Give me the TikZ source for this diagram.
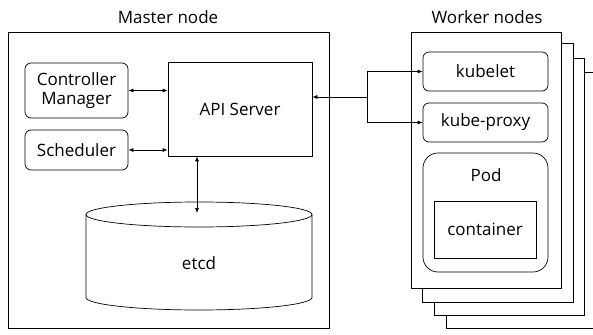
\documentclass[tikz,border=0pt]{standalone}
\usepackage{fontspec}
\setmainfont{Open Sans}
\usetikzlibrary{arrows.meta}
\begin{document}
\begin{tikzpicture}[x=1pt,y=-1pt,
  every node/.style={font=\fontsize{17}{19}\selectfont, inner sep=0pt},
  box/.style={draw, line width=0.7pt},
  rbox/.style={draw, line width=0.7pt, rounded corners=6pt},
  wbox/.style={draw, line width=0.7pt, fill=white},
  arr/.style={line width=0.7pt, {Latex[length=5pt,width=4pt]}-{Latex[length=5pt,width=4pt]}},
  arrone/.style={line width=0.7pt, -{Latex[length=5pt,width=4pt]}},
  ln/.style={line width=0.7pt}]
\useasboundingbox (0,0) rectangle (593,334);
\clip (0,0) rectangle (593,334);
% master
\node[box, minimum width=321pt, minimum height=296pt] (master) at (168.5,180) {};
\node (mtitle) at (168,17) {Master node};
\node[rbox, minimum width=103pt, minimum height=55pt, align=center] (cm) at (76.5,90.5) {Controller\\Manager};
\node[rbox, minimum width=103pt, minimum height=40pt] (sch) at (76.5,150) {Scheduler};
\node[box, minimum width=144pt, minimum height=94pt] (api) at (240,109) {API Server};
% etcd cylinder
\draw[ln, fill=white] (86,214.5) -- (86,297.5) arc[start angle=180, end angle=360, x radius=113pt, y radius=12.5pt] -- (312,214.5) arc[start angle=0, end angle=180, x radius=113pt, y radius=12.5pt];
\draw[ln] (86,214.5) arc[start angle=180, end angle=360, x radius=113pt, y radius=12.5pt];
\coordinate (etcdtop) at (197,213);
\node (etcd) at (199,263) {etcd};
\draw[arr] (cm.east) -- (cm.east -| api.west);
\draw[arr] (sch.east) -- (sch.east -| api.west);
\draw[arr] (api.south -| etcdtop) -- (etcdtop);
% workers
\node[wbox, minimum width=154pt, minimum height=256pt] (w4) at (523,200) {};
\node[wbox, minimum width=150pt, minimum height=257pt] (w3) at (509,186.5) {};
\node[wbox, minimum width=151pt, minimum height=259pt] (w2) at (497.5,172.5) {};
\node[wbox, minimum width=150pt, minimum height=256pt] (w1) at (486,160) {};
\node (wtitle) at (487,17) {Worker nodes};
\node[rbox, minimum width=125pt, minimum height=39pt] (kubelet) at (485.5,71.5) {kubelet};
\node[rbox, minimum width=125pt, minimum height=39pt] (proxy) at (485.5,122.5) {kube-proxy};
\node[draw, line width=0.7pt, rounded corners=15pt, minimum width=125pt, minimum height=119pt] (pod) at (485.5,212.5) {};
\node (podlbl) at (486,175) {Pod};
\node[box, minimum width=102pt, minimum height=57pt] (cont) at (485,229.5) {container};
% api <-> workers
\coordinate (j) at (367,97);
\draw[arrone] (j) -- (api.east |- j);
\draw[arrone] (j |- kubelet.west) -- (kubelet.west);
\draw[arrone] (j |- proxy.west) -- (proxy.west);
\draw[ln] (j |- kubelet.west) -- (j |- proxy.west);
\end{tikzpicture}
\end{document}
